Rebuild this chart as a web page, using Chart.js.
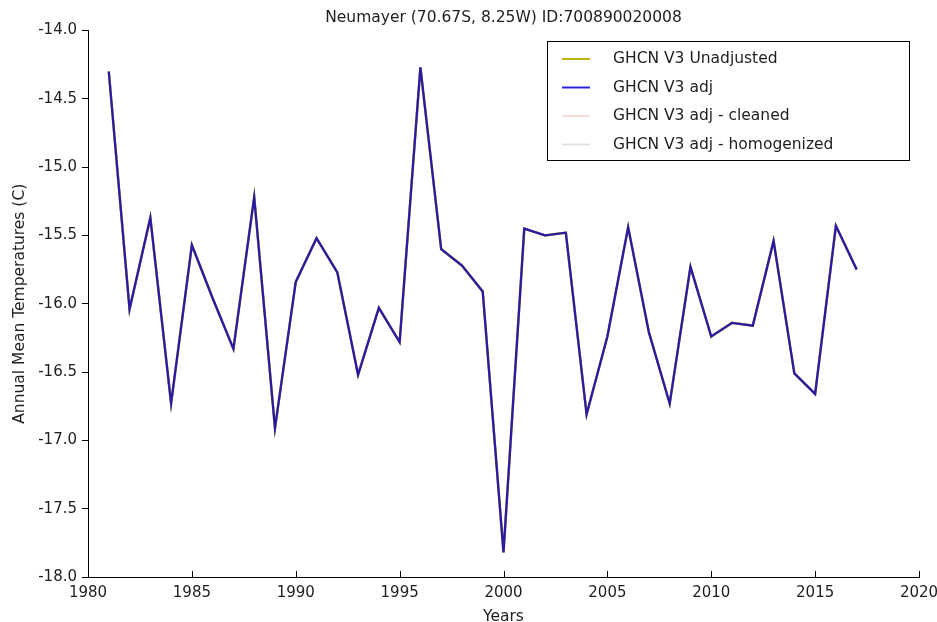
<!DOCTYPE html>
<html>
<head>
<meta charset="utf-8">
<title>Neumayer annual mean temperatures</title>
<script src="https://cdn.jsdelivr.net/npm/chart.js@4/dist/chart.umd.min.js"></script>
<style>
  html, body { margin: 0; padding: 0; background: #fff; }
  #wrap { width: 937px; height: 622px; }
</style>
</head>
<body>
<div id="wrap"><canvas id="chart_canvas"></canvas></div>
<script>
const years = [1981, 1982, 1983, 1984, 1985, 1986, 1987, 1988, 1989, 1990,
               1991, 1992, 1993, 1994, 1995, 1996, 1997, 1998, 1999, 2000,
               2001, 2002, 2003, 2004, 2005, 2006, 2007, 2008, 2009, 2010,
               2011, 2012, 2013, 2014, 2015, 2016, 2017];

// GHCN V3 unadjusted and adjusted are identical for this station
const unadjTemps = [-14.30, -16.04, -15.37, -16.73, -15.57, -15.96, -16.33, -15.22, -16.91, -15.84,
                    -15.52, -15.77, -16.52, -16.03, -16.28, -14.27, -15.60, -15.72, -15.91, -17.82,
                    -15.45, -15.50, -15.48, -16.81, -16.24, -15.44, -16.21, -16.73, -15.73, -16.24,
                    -16.14, -16.16, -15.54, -16.51, -16.66, -15.43, -15.75];
const adjTemps   = [-14.30, -16.04, -15.37, -16.73, -15.57, -15.96, -16.33, -15.22, -16.91, -15.84,
                    -15.52, -15.77, -16.52, -16.03, -16.28, -14.27, -15.60, -15.72, -15.91, -17.82,
                    -15.45, -15.50, -15.48, -16.81, -16.24, -15.44, -16.21, -16.73, -15.73, -16.24,
                    -16.14, -16.16, -15.54, -16.51, -16.66, -15.43, -15.75];
const cleanedTemps = [];
const homogTemps = [];

const seriesNames = ["GHCN V3 Unadjusted", "GHCN V3 adj", "GHCN V3 adj - cleaned", "GHCN V3 adj - homogenized"];
const legendColors = ["#bdb315", "#2525e0", "#fbdcdc", "#e2e2e2"];
const chartTitle = "Neumayer (70.67S, 8.25W) ID:700890020008";

const FONT = "'DejaVu Sans', sans-serif";
const TEXT = "#1e1e1e";

function toPoints(vals)
{
  return vals.map((v, i) => ({x: years[i], y: v}));
}

// matplotlib style: x ticks point into the plot, title centred over the axes
const axesExtras = {
  id: "axesExtras",
  afterDraw(chart)
  {
    const ctx = chart.ctx;
    const xs = chart.scales.x;
    const area = chart.chartArea;
    ctx.save();
    ctx.strokeStyle = "#000";
    ctx.lineWidth = 1;
    xs.ticks.forEach(t => {
      const px = Math.round(xs.getPixelForValue(t.value)) + 0.5;
      ctx.beginPath();
      ctx.moveTo(px, xs.top);
      ctx.lineTo(px, xs.top - 6);
      ctx.stroke();
    });
    ctx.fillStyle = TEXT;
    ctx.font = "15.5px " + FONT;
    ctx.textAlign = "center";
    ctx.textBaseline = "middle";
    ctx.fillText(chartTitle, (area.left + area.right) / 2, 18);
    ctx.restore();
  }
};

// boxed legend in the upper right, as in the original
const boxLegend = {
  id: "boxLegend",
  afterDraw(chart)
  {
    const ctx = chart.ctx;
    const left = 547.5, top = 41.5, w = 362, h = 119;
    ctx.save();
    ctx.fillStyle = "#fff";
    ctx.fillRect(left, top, w, h);
    ctx.strokeStyle = "#000";
    ctx.lineWidth = 1;
    ctx.strokeRect(left, top, w, h);
    ctx.font = "15.5px " + FONT;
    ctx.textBaseline = "middle";
    seriesNames.forEach((name, i) => {
      const y = 59 + i * 28.5;
      ctx.strokeStyle = legendColors[i];
      ctx.lineWidth = 2;
      ctx.beginPath();
      ctx.moveTo(562, y);
      ctx.lineTo(590, y);
      ctx.stroke();
      ctx.fillStyle = TEXT;
      ctx.fillText(name, 613, y);
    });
    ctx.restore();
  }
};

const config = {
  type: "line",
  data: {
    datasets: [
      {label: seriesNames[1], data: toPoints(adjTemps), borderColor: "#2a1aa8", borderWidth: 2.3, pointRadius: 0, order: 0},
      {label: seriesNames[0], data: toPoints(unadjTemps), borderColor: "#b5ad20", borderWidth: 2.5, pointRadius: 0, order: 1},
      {label: seriesNames[2], data: toPoints(cleanedTemps), borderColor: legendColors[2], borderWidth: 2, pointRadius: 0, order: 2},
      {label: seriesNames[3], data: toPoints(homogTemps), borderColor: legendColors[3], borderWidth: 2, pointRadius: 0, order: 3}
    ]
  },
  options: {
    responsive: true,
    maintainAspectRatio: false,
    animation: false,
    layout: {padding: {top: 30.5, right: 18, bottom: 0, left: 0}},
    plugins: {
      legend: {display: false},
      tooltip: {enabled: false},
      title: {display: false}
    },
    scales: {
      x: {
        type: "linear",
        min: 1980,
        max: 2020,
        afterFit: s => { s.height = 45; s.paddingRight = 4; },
        border: {display: true, color: "#000", width: 1},
        grid: {display: true, drawOnChartArea: false, drawTicks: false},
        ticks: {
          stepSize: 5,
          padding: 7,
          color: TEXT,
          font: {family: FONT, size: 15},
          maxRotation: 0,
          callback: v => String(v)
        },
        title: {
          display: true,
          text: "Years",
          color: TEXT,
          font: {family: FONT, size: 15.5, lineHeight: 0.6},
          padding: {top: 0, bottom: 0}
        }
      },
      y: {
        min: -18,
        max: -14,
        afterFit: s => { s.width = 88; },
        border: {display: true, color: "#000", width: 1},
        grid: {display: true, drawOnChartArea: false, drawTicks: true, tickLength: 6, color: "#000"},
        ticks: {
          stepSize: 0.5,
          padding: 5,
          color: TEXT,
          font: {family: FONT, size: 15},
          callback: v => v.toFixed(1)
        },
        title: {
          display: true,
          text: "Annual Mean Temperatures (C)",
          color: TEXT,
          font: {family: FONT, size: 15.5},
          padding: {top: 11, bottom: 0}
        }
      }
    }
  },
  plugins: [axesExtras, boxLegend]
};

const chart = new Chart(document.getElementById("chart_canvas"), config);
</script>
</body>
</html>
